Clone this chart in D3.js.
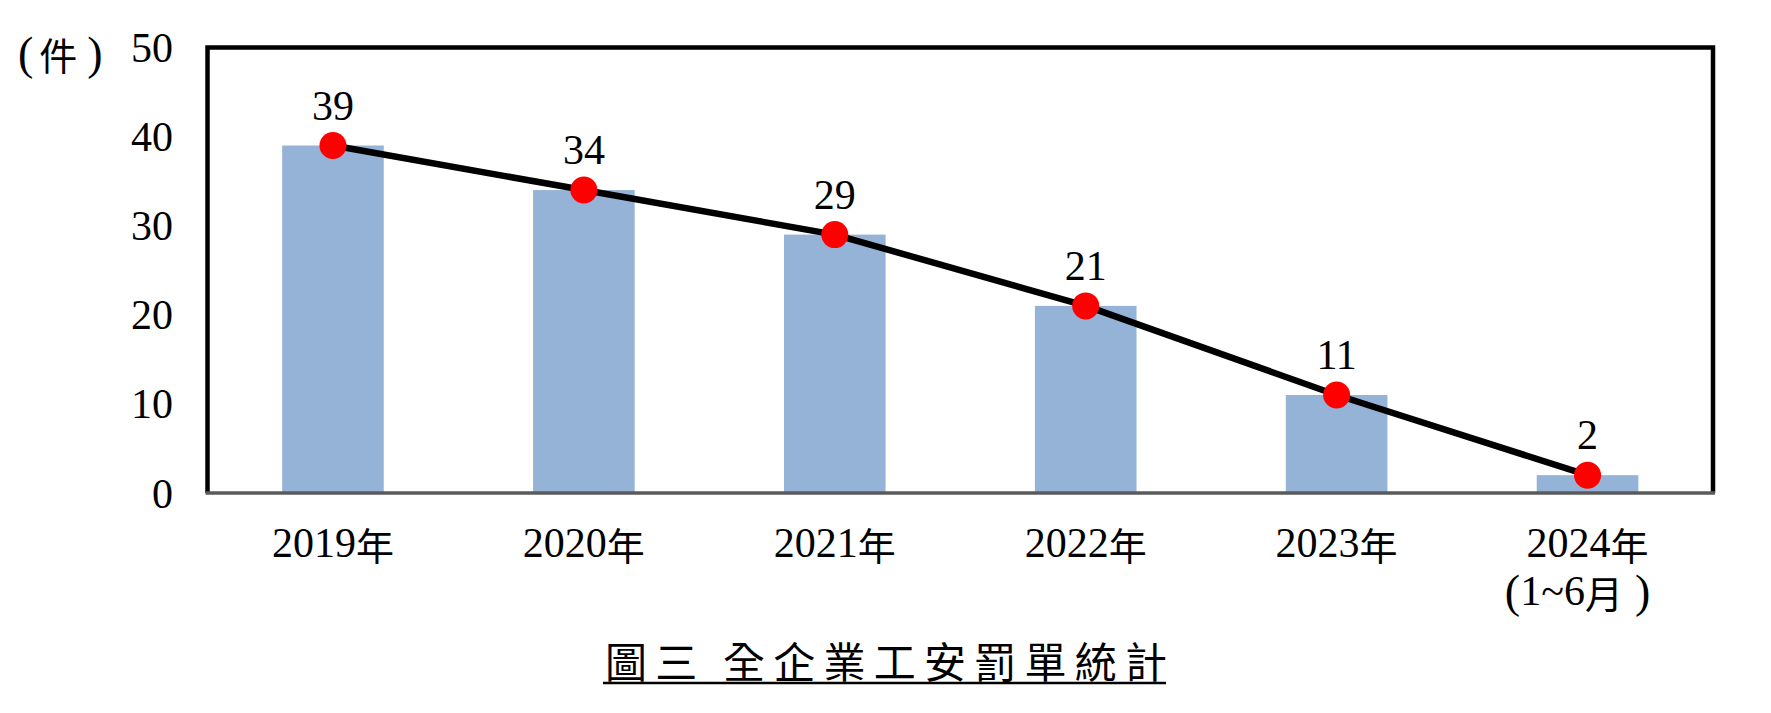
<!DOCTYPE html>
<html><head><meta charset="utf-8">
<script src="https://cdn.jsdelivr.net/npm/d3@7"></script>
<style>html,body{margin:0;padding:0;background:#fff;}</style>
</head><body>
<svg id="chart" width="1771" height="713"></svg>
<script>
const categories = ["2019年", "2020年", "2021年", "2022年", "2023年", "2024年\n（1~6月）"];
const values = [39, 34, 29, 21, 11, 2];
const yTicks = [0, 10, 20, 30, 40, 50];
const yUnit = "（件）";
const title = "圖三 全企業工安罰單統計";

const svg = d3.select("#chart");
const L = 207.5, R = 1713, T = 47.5, B = 493;
const serif = "'Liberation Serif','DejaVu Serif',serif";
const cjk = "'Noto Sans CJK TC','Noto Sans CJK SC',sans-serif";

const x = d3.scaleBand().domain(categories).range([L, R]).paddingInner(0.595).paddingOuter(0.2975);
const y = d3.scaleLinear().domain([0, 50]).range([B, T]);

// render mixed text: digits/~ and parens in serif, CJK in sans CJK
function mixed(t, str) {
  const parts = str.match(/[0-9~]+|[（）]|[^0-9~（）]+/g);
  parts.forEach(p => {
    const ts = t.append("tspan");
    if (p === "（") ts.text("(").attr("font-family", serif).attr("font-size", 46);
    else if (p === "）") ts.text(")").attr("font-family", serif).attr("font-size", 46).attr("dx", 12);
    else if (/[0-9~]/.test(p)) ts.text(p).attr("font-family", serif).attr("font-size", 42);
    else ts.text(p).attr("font-family", cjk).attr("font-size", 38);
  });
}

// bars
svg.append("g").selectAll("rect").data(values).join("rect")
  .attr("x", (d, i) => x(categories[i]))
  .attr("width", x.bandwidth())
  .attr("y", d => y(d))
  .attr("height", d => B - y(d))
  .attr("fill", "#95B3D7");

// frame (left, top, right)
svg.append("path")
  .attr("d", `M${L},${B} L${L},${T} L${R},${T} L${R},${B}`)
  .attr("fill", "none").attr("stroke", "#000").attr("stroke-width", 4.5);

// bottom axis
const xAxis = d3.axisBottom(x).tickSize(0).tickFormat("");
const gx = svg.append("g").attr("transform", `translate(0,${B})`).call(xAxis);
gx.select(".domain").attr("stroke", "#5a5a5a").attr("stroke-width", 3.5).attr("d", `M${L - 2},0H${R + 2}`);

// x labels
categories.forEach((c, i) => {
  const lines = c.split("\n");
  const cx = x(c) + x.bandwidth() / 2;
  lines.forEach((ln, j) => {
    const t = svg.append("text")
      .attr("x", cx + (j ? -10 : 0)).attr("y", 543 + j * 48)
      .attr("text-anchor", "middle").attr("dominant-baseline", "central")
      .attr("font-size", 40).attr("fill", "#000");
    mixed(t, ln);
  });
});

// y axis labels
const yAxis = d3.axisLeft(y).tickValues(yTicks).tickSize(0).tickPadding(0);
const gy = svg.append("g").attr("transform", `translate(173,0)`).call(yAxis);
gy.select(".domain").remove();
gy.selectAll("text").attr("font-family", serif).attr("font-size", 42).attr("fill", "#000")
  .attr("dy", null).attr("dominant-baseline", "central");

// unit
const ut = svg.append("text").attr("x", 18).attr("y", 53)
  .attr("text-anchor", "start").attr("dominant-baseline", "central").attr("fill", "#000");
mixed(ut, yUnit);
ut.selectAll("tspan").filter(function () { return d3.select(this).text() === "件"; }).attr("dx", 6);
ut.selectAll("tspan").filter(function () { return d3.select(this).text() === ")"; }).attr("dx", 10);

// line
const line = d3.line().x((d, i) => x(categories[i]) + x.bandwidth() / 2).y(d => y(d));
svg.append("path").datum(values).attr("d", line)
  .attr("fill", "none").attr("stroke", "#000").attr("stroke-width", 6.5).attr("stroke-linejoin", "round");

// markers
svg.append("g").selectAll("circle").data(values).join("circle")
  .attr("cx", (d, i) => x(categories[i]) + x.bandwidth() / 2)
  .attr("cy", d => y(d)).attr("r", 13.5).attr("fill", "#FF0000");

// data labels
svg.append("g").selectAll("text").data(values).join("text")
  .attr("x", (d, i) => x(categories[i]) + x.bandwidth() / 2)
  .attr("y", d => y(d) - 40)
  .attr("text-anchor", "middle").attr("dominant-baseline", "central")
  .attr("font-family", serif).attr("font-size", 42).attr("fill", "#000")
  .text(d => d);

// title
svg.append("text").attr("x", 605).attr("y", 659)
  .attr("text-anchor", "start").attr("dominant-baseline", "central")
  .attr("font-family", cjk).attr("font-size", 42).attr("fill", "#000")
  .attr("textLength", 562).attr("lengthAdjust", "spacing")
  .text(title);
svg.append("line").attr("x1", 603).attr("x2", 1166).attr("y1", 683).attr("y2", 683)
  .attr("stroke", "#000").attr("stroke-width", 2.5);
</script>
</body></html>
